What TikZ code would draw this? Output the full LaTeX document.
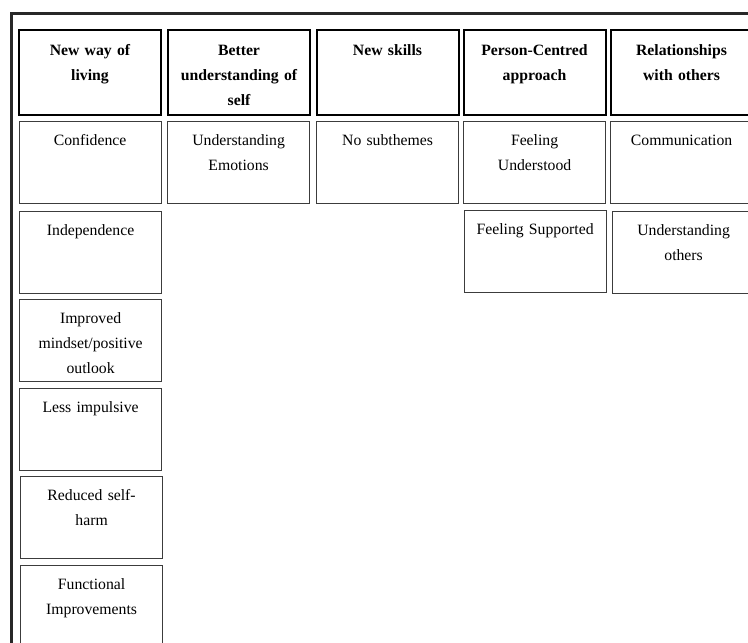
\documentclass[tikz,border=0pt]{standalone}
\usepackage{fontspec}
\setmainfont{Liberation Serif}
\usetikzlibrary{positioning}
\definecolor{framegray}{RGB}{40,40,40}
\definecolor{subgray}{RGB}{60,60,60}
\tikzset{
  themebox/.style={draw=black,line width=1.5pt,anchor=north west,inner sep=0pt,
    text width=106.5pt,align=center,text height=19pt,text depth=44.75pt,
    font=\bfseries\fontsize{11.8pt}{18.75pt}\selectfont},
  subbox/.style={draw=subgray,line width=0.9pt,anchor=north west,inner sep=0pt,
    text width=106.5pt,align=center,text height=18pt,text depth=43.5pt,
    font=\fontsize{11.8pt}{18.75pt}\selectfont}
}

\begin{document}
\begin{tikzpicture}[x=0.75pt,y=-0.75pt]
\clip (0,0) rectangle (748,642);
% outer frame, cut by the page at right and bottom
\draw[framegray,line width=1.6pt] (11.5,660) |- (760,13.5);
% themes
\node[themebox] (living) at (18,29) {New way of\\living};
\node[themebox] (self) at (167,29) {Better\\understanding of\\self};
\node[themebox] (skills) at (315.5,29) {New skills};
\node[themebox] (person) at (462.5,29) {Person-Centred\\approach};
\node[themebox] (relations) at (609.5,29) {Relationships\\with others};
% subthemes
\node[subbox] (confidence) at (18.5,121) {Confidence};
\node[subbox] (independence) at (19,210.5) {Independence};
\node[subbox] (mindset) at (19,299) {Improved\\mindset/positive\\outlook};
\node[subbox] (impulsive) at (19,387.5) {Less impulsive};
\node[subbox] (selfharm) at (20,476) {Reduced self-\\harm};
\node[subbox] (functional) at (20,564.5) {Functional\\Improvements};
\node[subbox] (emotions) at (167,121) {Understanding\\Emotions};
\node[subbox] (nosub) at (316,121) {No subthemes};
\node[subbox] (understood) at (463,121) {Feeling\\Understood};
\node[subbox] (supported) at (463.5,209.5) {Feeling Supported};
\node[subbox] (communication) at (610,121) {Communication};
\node[subbox] (others) at (612,211) {Understanding\\others};
\end{tikzpicture}
\end{document}
